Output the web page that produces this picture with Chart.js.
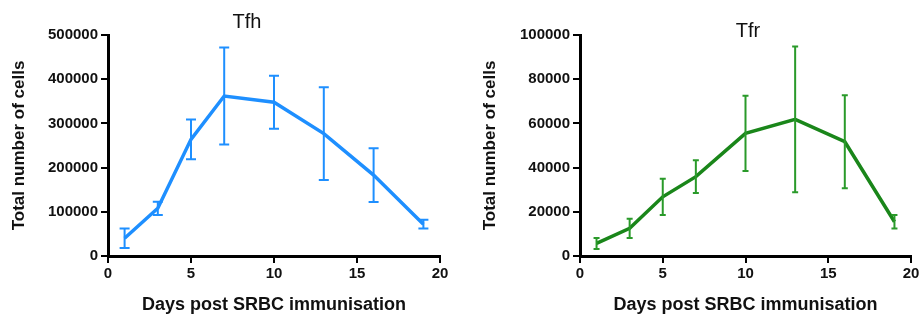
<!DOCTYPE html>
<html>
<head>
<meta charset="utf-8">
<script src="https://cdn.jsdelivr.net/npm/chart.js@4/dist/chart.umd.min.js"></script>
<style>
  body { margin: 0; background: #fff; overflow: hidden; }
  #wrap { position: relative; width: 922px; height: 320px; }
  .panel { position: absolute; top: 0; width: 461px; height: 320px; }
</style>
</head>
<body>
<div id="wrap">
  <div class="panel" style="left:0"><canvas id="tfh"></canvas></div>
  <div class="panel" style="left:461px"><canvas id="tfr"></canvas></div>
</div>
<script>
const days = [1, 3, 5, 7, 10, 13, 16, 19];

const tfhMean = [40000, 108000, 264000, 362000, 348000, 277000, 183000, 72000];
const tfhErr = [22000, 15000, 45000, 110000, 60000, 105000, 61000, 10000];

const tfrMean = [5700, 12500, 26800, 35900, 55500, 61800, 51700, 15500];
const tfrErr = [2500, 4300, 8200, 7400, 17000, 33000, 21000, 3000];

const xTicks = [0, 5, 10, 15, 20];

Chart.defaults.font.family = '"Liberation Sans", Arial, sans-serif';
Chart.defaults.color = '#111';

// vertical error bars with caps, placed through the chart scales
const errorBars = {
  id: 'errorBars',
  afterDatasetsDraw(chart, args, opts) {
    const { ctx, scales: { x, y } } = chart;
    ctx.save();
    ctx.strokeStyle = opts.color;
    ctx.lineWidth = opts.width;
    opts.errors.forEach((e, i) => {
      const pt = chart.data.datasets[0].data[i];
      const px = x.getPixelForValue(pt.x);
      const top = y.getPixelForValue(pt.y + e);
      const bot = y.getPixelForValue(Math.max(0, pt.y - e));
      ctx.beginPath();
      ctx.moveTo(px, top); ctx.lineTo(px, bot);
      ctx.moveTo(px - opts.cap, top); ctx.lineTo(px + opts.cap, top);
      ctx.moveTo(px - opts.cap, bot); ctx.lineTo(px + opts.cap, bot);
      ctx.stroke();
    });
    ctx.restore();
  }
};

const panelTitle = {
  id: 'panelTitle',
  afterDraw(chart, args, opts) {
    const ctx = chart.ctx;
    ctx.save();
    ctx.font = '20px "Liberation Sans", Arial, sans-serif';
    ctx.fillStyle = '#111';
    ctx.textAlign = 'center';
    ctx.textBaseline = 'middle';
    ctx.fillText(opts.text, opts.x, opts.y);
    ctx.restore();
  }
};

function makePanel(id, title, mean, err, yMax, yStep, colors, geo) {
  const points = days.map((d, i) => ({ x: d, y: mean[i] }));
  new Chart(document.getElementById(id), {
    type: 'line',
    data: {
      datasets: [{
        data: points,
        borderColor: colors.line,
        borderWidth: 3.5,
        pointRadius: 0,
        tension: 0
      }]
    },
    options: {
      responsive: true,
      maintainAspectRatio: false,
      animation: false,
      layout: { padding: { top: 35, right: geo.right, left: 0, bottom: 0 } },
      plugins: {
        legend: { display: false },
        tooltip: { enabled: false },
        errorBars: { errors: err, color: colors.bar, width: 2, cap: geo.cap },
        panelTitle: { text: title, x: geo.titleX, y: geo.titleY }
      },
      scales: {
        x: {
          type: 'linear',
          min: 0,
          max: 20,
          afterBuildTicks: s => { s.ticks = xTicks.map(v => ({ value: v })); },
          afterFit: s => { s.height = 64; },
          border: { color: '#000', width: 3 },
          grid: { drawOnChartArea: false, color: '#000', tickLength: 7, lineWidth: 2 },
          ticks: { font: { size: 15, weight: 'bold' }, padding: 2, maxRotation: 0 },
          title: {
            display: true,
            text: 'Days post SRBC immunisation',
            font: { size: 18, weight: 'bold' },
            padding: { top: 0, bottom: 4 }
          }
        },
        y: {
          min: 0,
          max: yMax,
          ticks: { stepSize: yStep, font: { size: 15, weight: 'bold' }, padding: 3, callback: v => v },
          afterFit: s => { s.width = geo.left; },
          border: { color: '#000', width: 3 },
          grid: { drawOnChartArea: false, color: '#000', tickLength: 7, lineWidth: 2 },
          title: {
            display: true,
            text: 'Total number of cells',
            font: { size: 17, weight: 'bold' },
            padding: { top: geo.yTitlePad, bottom: 0 }
          }
        }
      }
    },
    plugins: [errorBars, panelTitle]
  });
}

makePanel('tfh', 'Tfh', tfhMean, tfhErr, 500000, 100000,
  { line: '#1e8fff', bar: '#1e8fff' },
  { left: 108, right: 21, cap: 5, titleX: 247, titleY: 22, yTitlePad: 9 });

makePanel('tfr', 'Tfr', tfrMean, tfrErr, 100000, 20000,
  { line: '#1a861a', bar: '#2a9a2a' },
  { left: 119, right: 11, cap: 3, titleX: 287, titleY: 31, yTitlePad: 19 });
</script>
</body>
</html>
